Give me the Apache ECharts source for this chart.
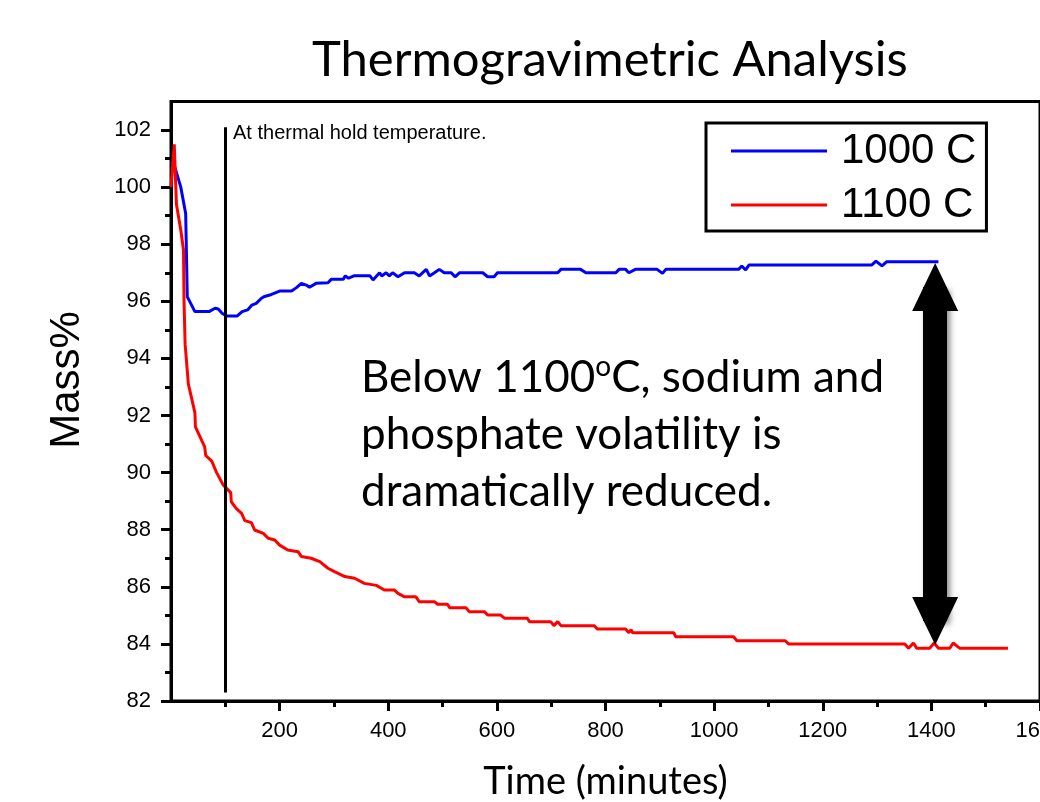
<!DOCTYPE html>
<html>
<head>
<meta charset="utf-8">
<script src="https://cdn.jsdelivr.net/npm/echarts@6/dist/echarts.min.js"></script>
<style>
html, body { margin: 0; padding: 0; background: #fff; }
#main { width: 1040px; height: 802px; }
</style>
</head>
<body>
<div id="main"></div>
<script>
// data: [time (min), mass %]
var seriesNames = ['1000 C', '1100 C'];

var mass1000 = [
  [0,100.89],[6,100.77],[18,100.0],[27,99.08],[30,96.16],[33,96.05],[44,95.64],[70,95.64],
  [81,95.76],[87,95.73],[94,95.58],[102,95.49],[122,95.49],[131,95.64],[141,95.70],[149,95.87],
  [157,95.93],[166,96.10],[171,96.16],[185,96.24],[200,96.36],[222,96.36],[231,96.48],[240,96.63],
  [249,96.57],[255,96.49],[267,96.63],[289,96.65],[295,96.77],[317,96.77],[321,96.89],[327,96.81],
  [338,96.90],[366,96.90],[372,96.75],[384,97.0],[388,96.89],[396,97.0],[402,96.89],[408,97.0],
  [418,96.86],[430,97.0],[448,97.0],[457,96.89],[470,97.12],[476,96.89],[485,97.0],[494,97.12],
  [503,97.0],[516,97.0],[523,96.86],[531,97.0],[574,97.0],[583,96.86],[595,96.86],[601,97.0],
  [712,97.0],[718,97.12],[754,97.12],[764,97.0],[819,97.0],[825,97.12],[837,97.12],[843,97.0],
  [855,97.12],[895,97.12],[905,96.98],[911,97.12],[1045,97.12],[1051,97.24],[1058,97.10],[1064,97.27],
  [1290,97.27],[1298,97.41],[1309,97.24],[1318,97.39],[1413,97.39]
];

var mass1100 = [
  [0,100.0],[6,101.5],[10,99.4],[18,98.5],[23,97.8],[24,96.0],[26,94.5],[32,93.1],
  [44,92.1],[45,91.6],[62,90.9],[64,90.6],[75,90.4],[84,90.0],[96,89.57],[110,89.3],
  [111,88.98],[120,88.75],[130,88.57],[136,88.32],[148,88.25],[154,87.99],[170,87.87],[179,87.70],
  [191,87.64],[200,87.46],[215,87.29],[234,87.23],[240,87.06],[258,87.0],[274,86.88],[289,86.65],
  [301,86.53],[320,86.36],[338,86.30],[356,86.12],[378,86.05],[393,85.89],[411,85.89],[418,85.77],
  [430,85.65],[451,85.65],[457,85.48],[485,85.48],[491,85.39],[509,85.39],[513,85.27],[543,85.27],
  [549,85.13],[577,85.13],[583,85.01],[607,85.01],[614,84.90],[656,84.90],[660,84.78],[699,84.78],
  [705,84.64],[712,84.78],[718,84.64],[779,84.64],[785,84.52],[837,84.52],[843,84.39],[847,84.50],
  [850,84.39],[926,84.39],[929,84.25],[1036,84.25],[1042,84.11],[1131,84.11],[1137,84.0],[1351,84.0],
  [1358,83.85],[1367,84.03],[1373,83.85],[1397,83.85],[1405,84.03],[1413,83.85],[1434,83.85],[1440,84.03],
  [1452,83.85],[1541,83.85]
];

var xMajorTicks = [200, 400, 600, 800, 1000, 1200, 1400, 1600];
var yMajorTicks = [82, 84, 86, 88, 90, 92, 94, 96, 98, 100, 102];
var yMinorTicks = [83, 85, 87, 89, 91, 93, 95, 97, 99, 101];

// hold temperature marker and the difference arrow
var holdTime = 100;
var holdLine = [102.1, 82.3];
var arrowTime = 1407;
var arrowEnds = [96.5, 84.8];

var black = '#000';
var arial = 'Liberation Sans';
var calibri = 'Lato';

var chart = echarts.init(document.getElementById('main'));

var option = {
    animation: false,
    title: {
        text: 'Thermogravimetric Analysis',
        left: 312,
        top: 36,
        padding: 0,
        textStyle: { fontFamily: calibri, fontSize: 49, fontWeight: 'normal', color: black }
    },
    legend: {
        orient: 'vertical',
        left: 706,
        top: 123,
        data: seriesNames,
        icon: 'rect',
        itemWidth: 96,
        itemHeight: 3,
        itemGap: 8,
        padding: [5, 10, 3, 25],
        borderColor: black,
        borderWidth: 3,
        textStyle: { fontFamily: arial, fontSize: 42, color: black, lineHeight: 46, padding: [0, 0, 0, 9] }
    },
    grid: {
        left: 171, right: 0, top: 101.5, bottom: 101,
        outerBoundsMode: 'none',
        containLabel: false,
        show: true, borderColor: black, borderWidth: 3
    },
    xAxis: {
        type: 'value',
        min: 0, max: 1600, interval: 200,
        name: 'Time (minutes)',
        nameLocation: 'middle',
        nameGap: 62,
        nameTextStyle: { fontFamily: calibri, fontSize: 38, color: black },
        axisLine: { show: true, lineStyle: { color: black, width: 3 } },
        axisTick: { show: true, length: 10, customValues: xMajorTicks, lineStyle: { color: black, width: 3 } },
        minorTick: { show: true, splitNumber: 2, length: 6, lineStyle: { color: black, width: 3 } },
        splitLine: { show: false },
        axisLabel: {
            customValues: xMajorTicks,
            margin: 19, fontFamily: arial, fontSize: 22, color: black,
            hideOverlap: false,
            formatter: function (v) { return v === 0 ? '' : v; }
        }
    },
    yAxis: [{
        type: 'value',
        min: 82, max: 103, interval: 2,
        axisLine: { show: true, lineStyle: { color: black, width: 3 } },
        axisTick: { show: true, length: 10, customValues: yMajorTicks, lineStyle: { color: black, width: 3 } },
        splitLine: { show: false },
        axisLabel: {
            customValues: yMajorTicks,
            margin: 20, fontFamily: arial, fontSize: 22, color: black,
            formatter: function (v) { return v > 102 ? '' : v; }
        }
    }, {
        // only carries the minor ticks at odd values
        type: 'value',
        position: 'left',
        min: 82, max: 103, interval: 2,
        axisLine: { show: false },
        axisTick: { show: true, length: 6, customValues: yMinorTicks, lineStyle: { color: black, width: 3 } },
        splitLine: { show: false },
        axisLabel: { show: false }
    }],
    graphic: [{
        type: 'text',
        x: 67, y: 380,
        rotation: Math.PI / 2,
        style: {
            text: 'Mass%', fill: black, font: '42px "Liberation Sans"',
            align: 'center', verticalAlign: 'middle'
        }
    }, {
        type: 'text',
        x: 233, y: 123,
        style: { text: 'At thermal hold temperature.', fill: black, font: '20px "Liberation Sans"' }
    }, {
        type: 'text',
        x: 361, y: 349,
        style: {
            text: '{t|Below 1100}{s|o}{t|C, sodium and}\n{t|phosphate volatility is}\n{t|dramatically reduced.}',
            rich: {
                t: { fontFamily: calibri, fontSize: 44, lineHeight: 57, fill: black },
                s: { fontFamily: calibri, fontSize: 28, lineHeight: 57, fill: black, verticalAlign: 'top', padding: [4, 0, 0, 0] }
            }
        }
    }],
    series: [{
        name: seriesNames[0],
        type: 'line',
        data: mass1000,
        symbol: 'none',
        color: '#0000ff',
        lineStyle: { width: 3, color: '#0000ff' },
        markLine: {
            silent: true,
            symbol: ['triangle', 'triangle'],
            symbolSize: [46, 48],
            label: { show: false },
            itemStyle: { color: black },
            lineStyle: {
                color: black, width: 24, type: 'solid',
                shadowBlur: 6, shadowColor: 'rgba(0,0,0,0.45)', shadowOffsetX: 3, shadowOffsetY: 3
            },
            data: [[{ coord: [arrowTime, arrowEnds[0]] }, { coord: [arrowTime, arrowEnds[1]] }]]
        }
    }, {
        name: seriesNames[1],
        type: 'line',
        data: mass1100,
        symbol: 'none',
        color: '#ff0000',
        lineStyle: { width: 3, color: '#ff0000' },
        markLine: {
            silent: true,
            symbol: ['none', 'none'],
            label: { show: false },
            lineStyle: { color: black, width: 3, type: 'solid' },
            data: [[{ coord: [holdTime, holdLine[0]] }, { coord: [holdTime, holdLine[1]] }]]
        }
    }]
};

chart.setOption(option);
</script>
</body>
</html>
